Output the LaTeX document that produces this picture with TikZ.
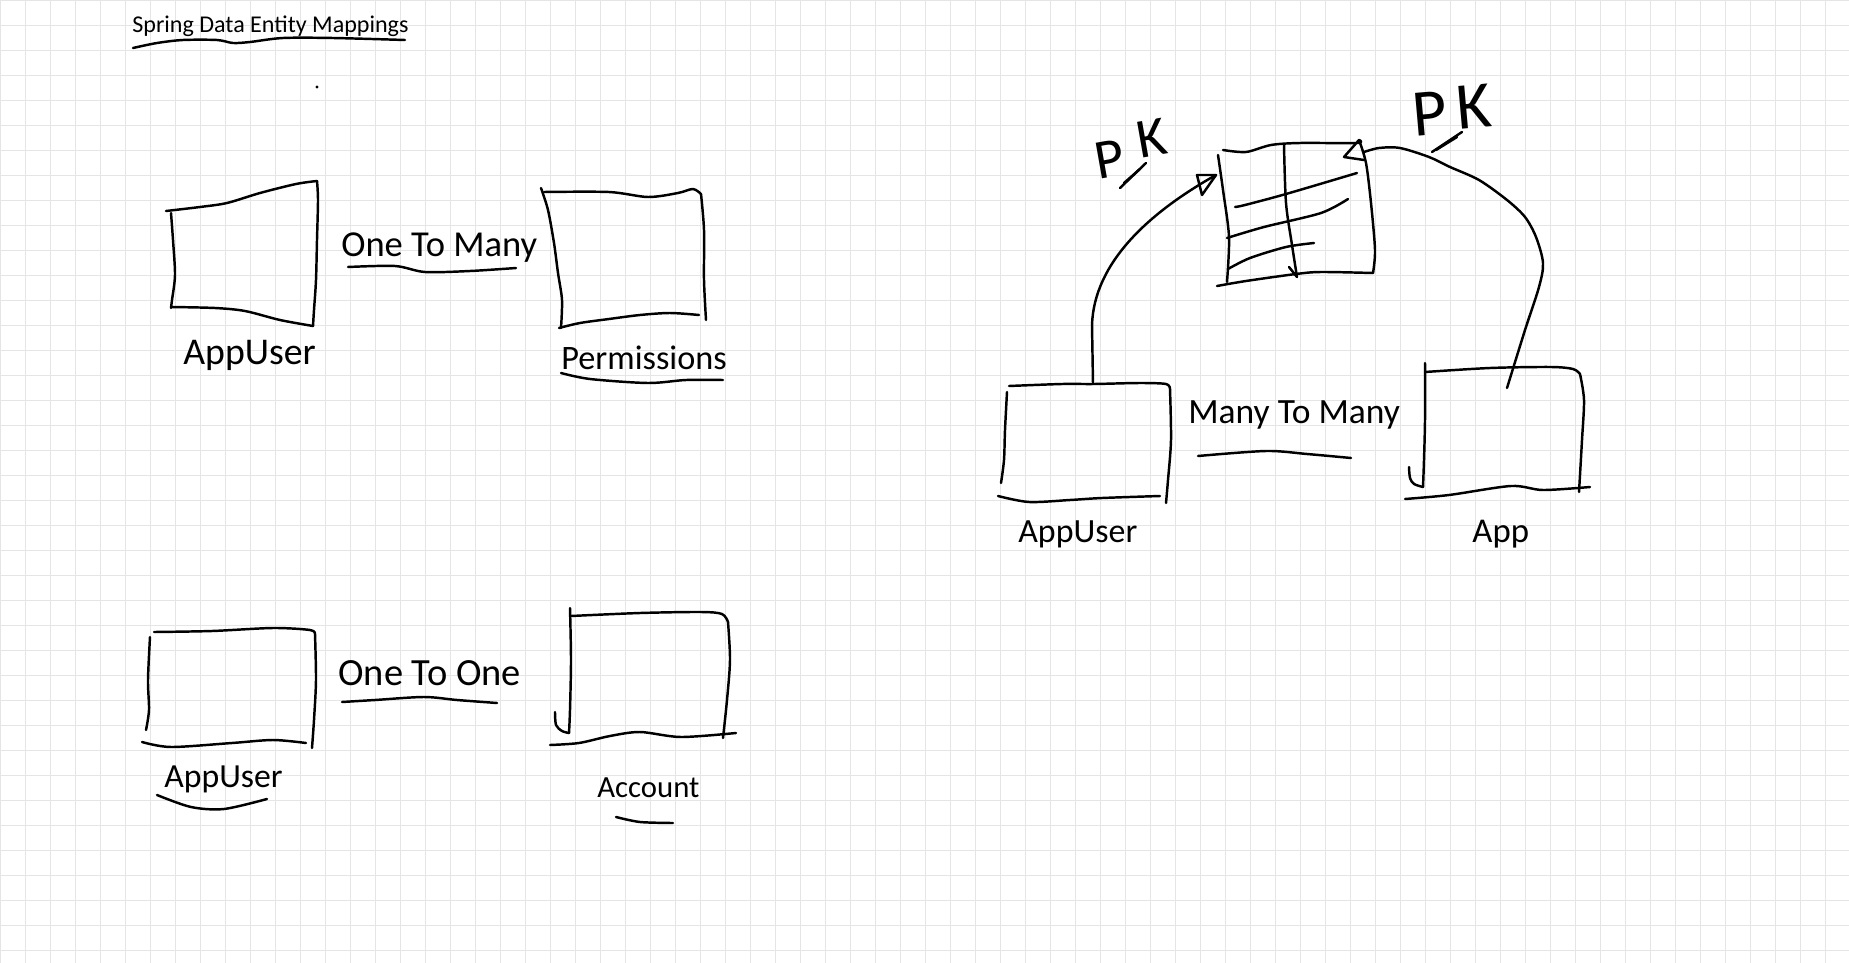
\documentclass[tikz,border=0pt]{standalone}
\usepackage{fontspec}
\setmainfont{Carlito}
\definecolor{gridgray}{RGB}{229,229,229}
\newcommand{\fsz}[1]{\fontsize{#1}{#1}\selectfont}
\tikzset{
  ink/.style={line width=1.4pt, line cap=round, line join=round},
  word/.style={anchor=base west, inner sep=0pt},
  relword/.style={word, font=\fsz{20.8pt}},
  entword/.style={word, font=\fsz{19.5pt}},
  pkword/.style={inner sep=0pt, font=\fsz{#1}},
  gridline/.style={draw=gridgray, line width=0.55pt}
}

\begin{document}
\begin{tikzpicture}[x=0.02cm, y=-0.02cm]
  \useasboundingbox (0,0) rectangle (1849,963);
  \fill[white] (0,0) rectangle (1849,963);
  \foreach \gx in {0,25,...,1849} \draw[gridline] (\gx,0) -- (\gx,963);
  \foreach \gy in {0,25,...,963} \draw[gridline] (0,\gy) -- (1849,\gy);

  % heading
  \node[word, font=\fsz{13.7pt}] (title) at (132,33) {Spring Data Entity Mappings};
  \draw[ink] plot[smooth] coordinates {(133,48) (157,43) (183,40) (217,40) (233,43) (250,42) (283,38) (333,38) (405,40)};
  \fill (317,87) circle (1.6);

  % one to many
  \draw[ink] plot[smooth] coordinates {(166,211) (200,207) (227,203) (260,193) (296,184) (317,181)};
  \draw[ink] plot[smooth] coordinates {(171,213) (173,240) (175,275) (172,300) (171,308)};
  \draw[ink] plot[smooth] coordinates {(317,181) (318,200) (317,240) (316,280) (314,310) (313,326)};
  \draw[ink] plot[smooth] coordinates {(171,307) (215,308) (245,311) (280,320) (313,326)};
  \node[entword, font=\fsz{21.5pt}] (user1) at (183,364) {AppUser};

  \node[relword] (onemany) at (341,256) {One To Many};
  \draw[ink] plot[smooth] coordinates {(348,267) (395,266) (425,272) (470,271) (516,268)};

  \draw[ink] plot[smooth] coordinates {(541,188) (548,210) (554,243) (558,273) (562,300) (561,328)};
  \draw[ink] plot[smooth] coordinates {(544,192) (609,192) (648,197) (678,193) (693,189) (701,194)};
  \draw[ink] plot[smooth] coordinates {(701,194) (704,230) (704,280) (706,320)};
  \draw[ink] plot[smooth] coordinates {(559,328) (580,323) (609,319) (640,315) (670,313) (699,315)};
  \node[entword] (perm) at (561,369) {Permissions};
  \draw[ink] plot[smooth] coordinates {(561,373) (590,379) (648,383) (686,380) (723,380)};

  % one to one
  \draw[ink] plot[smooth] coordinates {(154,632) (212,631) (273,628) (310,630) (315,634)};
  \draw[ink] plot[smooth] coordinates {(150,637) (148,680) (149,710) (146,730)};
  \draw[ink] plot[smooth] coordinates {(315,634) (316,680) (314,720) (312,748)};
  \draw[ink] plot[smooth] coordinates {(142,742) (171,747) (232,743) (273,740) (306,743)};
  \node[entword, font=\fsz{19.2pt}] (user2) at (164,787) {AppUser};
  \draw[ink] plot[smooth] coordinates {(157,795) (191,807) (224,809) (267,799)};

  \node[relword, font=\fsz{21.9pt}] (oneone) at (338,685) {One To One};
  \draw[ink] plot[smooth] coordinates {(342,702) (375,700) (424,697) (457,700) (497,703)};

  \draw[ink] plot[smooth] coordinates {(570,608) (571,660) (570,710) (569,733)};
  \draw[ink] plot[smooth] coordinates {(555,712) (556,725) (562,731) (569,733)};
  \draw[ink] plot[smooth] coordinates {(571,616) (640,613) (701,612) (722,614) (728,622)};
  \draw[ink] plot[smooth] coordinates {(728,622) (730,660) (727,700) (723,738)};
  \draw[ink] plot[smooth] coordinates {(550,745) (579,743) (610,736) (640,732) (681,737) (736,733)};
  \node[entword, font=\fsz{17.5pt}] (account) at (597,797) {Account};
  \draw[ink] plot[smooth] coordinates {(616,817) (640,822) (673,823)};

  % many to many
  \draw[ink] plot[smooth] coordinates {(1009,386) (1062,384) (1094,384) (1140,383) (1166,384) (1170,389)};
  \draw[ink] plot[smooth] coordinates {(1007,392) (1005,430) (1004,460) (1001,483)};
  \draw[ink] plot[smooth] coordinates {(1170,389) (1171,440) (1168,480) (1166,503)};
  \draw[ink] plot[smooth] coordinates {(998,496) (1029,502) (1070,500) (1102,498) (1160,496)};
  \coordinate (user3top) at (1093,384);
  \node[entword, font=\fsz{19.3pt}] (user3) at (1018,542) {AppUser};

  \node[entword, font=\fsz{20.2pt}] (manymany) at (1188,423) {Many To Many};
  \draw[ink] plot[smooth] coordinates {(1198,456) (1266,451) (1307,454) (1351,458)};

  \draw[ink] plot[smooth] coordinates {(1425,363) (1425,420) (1424,460) (1423,487)};
  \draw[ink] plot[smooth] coordinates {(1409,467) (1410,478) (1414,484) (1423,487)};
  \draw[ink] plot[smooth] coordinates {(1425,372) (1490,368) (1551,367) (1573,369) (1580,374)};
  \draw[ink] plot[smooth] coordinates {(1580,374) (1584,400) (1582,440) (1579,492)};
  \draw[ink] plot[smooth] coordinates {(1405,499) (1449,495) (1511,486) (1543,490) (1590,487)};
  \coordinate (apptop) at (1507,388);
  \node[entword, font=\fsz{19.8pt}] (app) at (1472,542) {App};

  % join table
  \draw[ink] plot[smooth] coordinates {(1223,150) (1246,152) (1271,145) (1300,143) (1357,143) (1359,140)};
  \draw[ink] plot[smooth] coordinates {(1218,155) (1223,190) (1229,237) (1227,282)};
  \draw[ink] plot[smooth] coordinates {(1359,140) (1366,163) (1371,203) (1375,250) (1373,273)};
  \draw[ink] plot[smooth] coordinates {(1217,286) (1246,281) (1296,274) (1321,272) (1373,273)};
  \draw[ink] plot[smooth] coordinates {(1284,145) (1286,203) (1292,245) (1297,277)};
  \draw[ink] (1289,267) -- (1297,277);
  \draw[ink] plot[smooth] coordinates {(1235,207) (1245,205) (1286,194) (1357,173)};
  \draw[ink] plot[smooth] coordinates {(1227,238) (1264,227) (1321,213) (1348,199)};
  \draw[ink] plot[smooth] coordinates {(1228,269) (1250,258) (1286,247) (1314,243)};
  \coordinate (jtleft) at (1216,175);
  \coordinate (jtright) at (1364,152);

  \draw[ink] (user3top) -- (1092,325) .. controls (1094,262) and (1150,212) .. (jtleft);
  \draw[ink] (jtleft) -- (1197,175) -- (1202,195) -- cycle;
  \draw[ink] plot[smooth] coordinates {(apptop) (1525,330) (1539,287) (1543,263) (1536,237) (1525,217) (1507,200) (1479,180) (1450,167) (1429,157) (1400,148) (1379,148) (jtright)};
  \draw[ink] (1359,140) -- (1344,157) -- (1364,160);

  % PK marks
  \node[pkword=32pt, rotate=10] (pkleftp) at (1110,159) {P};
  \node[pkword=32pt, rotate=10] (pkleftk) at (1152,138) {K};
  \draw[ink] (1120,188) -- (1146,163);
  \draw[ink] (1124,183) -- (1140,169);
  \node[pkword=38pt, rotate=5] (pkrightp) at (1430,114) {P};
  \node[pkword=38pt, rotate=5] (pkrightk) at (1474,107) {K};
  \draw[ink] (1432,152) -- (1462,132);
  \draw[ink] (1436,150) -- (1457,137);
\end{tikzpicture}
\end{document}
